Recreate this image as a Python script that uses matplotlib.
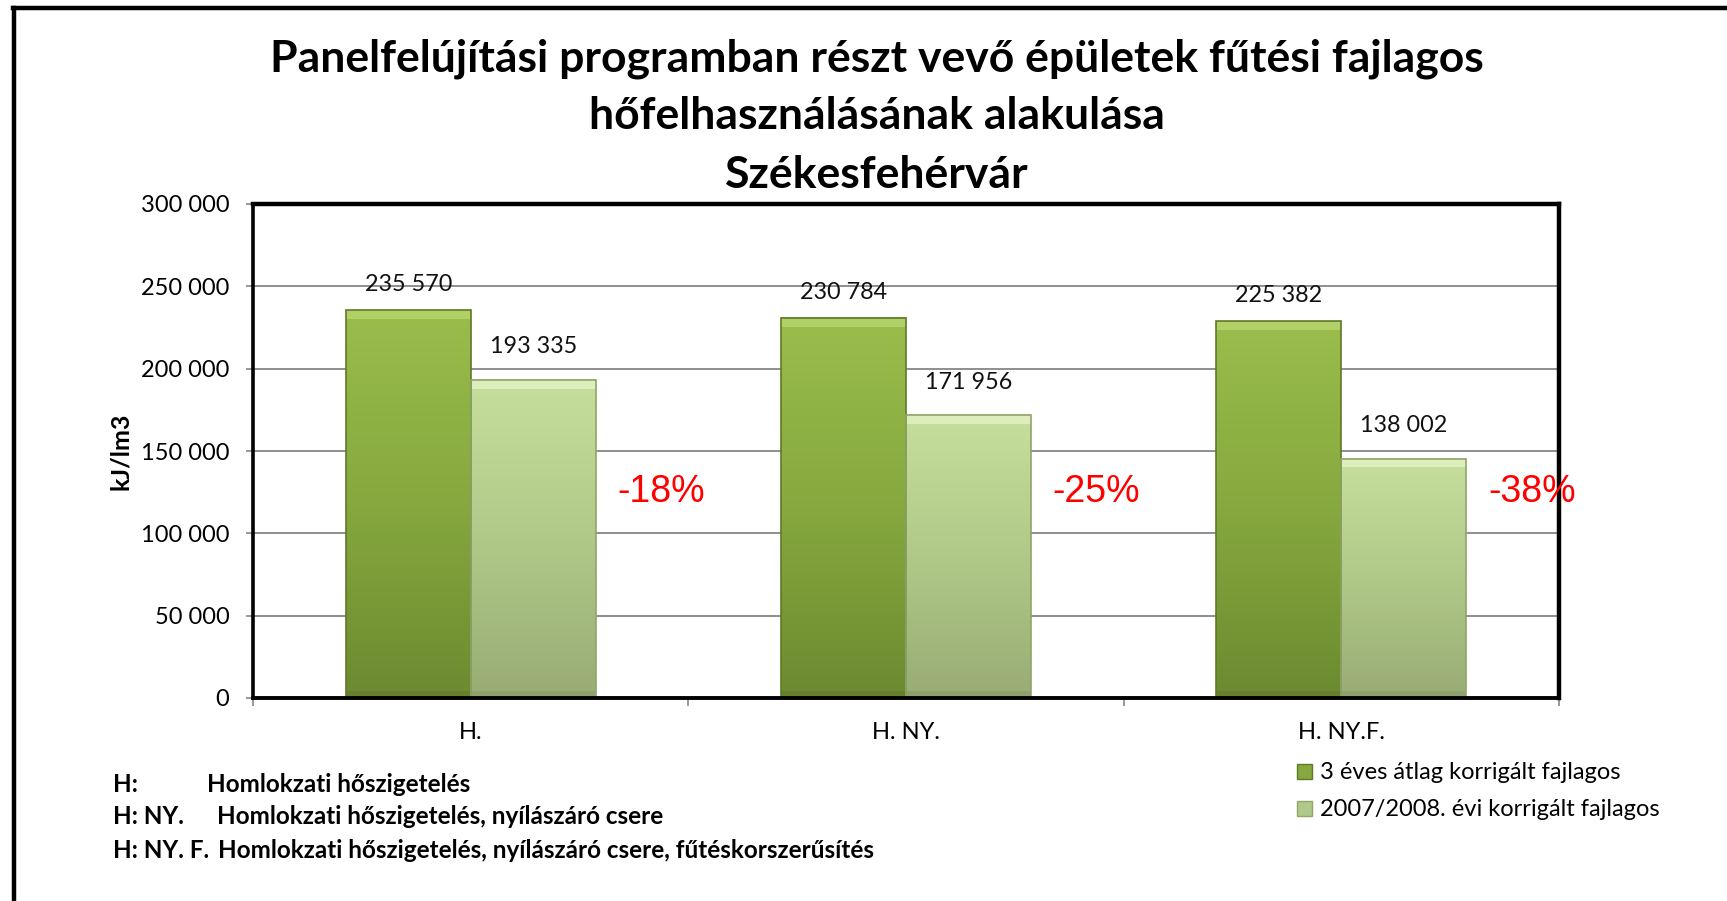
import matplotlib
matplotlib.use('Agg')
import matplotlib.pyplot as plt
import numpy as np
from matplotlib.colors import LinearSegmentedColormap
from matplotlib.patches import Patch, Rectangle
from matplotlib.lines import Line2D

# ---------------- data ----------------
title_lines = ['Panelfelújítási programban részt vevő épületek fűtési fajlagos',
               'hőfelhasználásának alakulása',
               'Székesfehérvár']
categories = ['H.', 'H. NY.', 'H. NY.F.']
series_names = ['3 éves átlag korrigált fajlagos', '2007/2008. évi korrigált fajlagos']
avg3_values = [235570, 230784, 228700]      # bar heights as drawn
y2007_values = [193335, 171956, 145400]     # bar heights as drawn
avg3_labels = ['235 570', '230 784', '225 382']
y2007_labels = ['193 335', '171 956', '138 002']
change_labels = ['-18%', '-25%', '-38%']
y_ticks = [0, 50000, 100000, 150000, 200000, 250000, 300000]
y_tick_labels = ['0', '50 000', '100 000', '150 000', '200 000', '250 000', '300 000']
y_label = 'kJ/lm3'
note_codes = ['H:', 'H: NY.', 'H: NY. F.']
note_texts = ['Homlokzati hőszigetelés',
              'Homlokzati hőszigetelés, nyílászáró csere',
              'Homlokzati hőszigetelés, nyílászáró csere, fűtéskorszerűsítés']

# ---------------- style ----------------
W, H = 1727, 901
FONT = ['Lato', 'DejaVu Sans']
plt.rcParams['font.family'] = FONT

def fx(px):
    return px / W

def fy(py):
    return 1 - py / H

dark_cmap = LinearSegmentedColormap.from_list('dark', ['#6c8a30', '#86a83e', '#9abd4c'])
light_cmap = LinearSegmentedColormap.from_list('light', ['#98ac74', '#b0c988', '#c6df9c'])
dark_edge, light_edge = '#5d7a26', '#8fa56a'
dark_bevel, light_bevel = '#c2e07c', '#eef8d2'

fig = plt.figure(figsize=(W / 100, H / 100), dpi=100)
ax = fig.add_axes([fx(253), fy(698), fx(1559) - fx(253), fy(204) - fy(698)])

x = np.arange(len(categories))
bw = 0.287
bars1 = ax.bar(x - bw / 2, avg3_values, bw, zorder=3)
bars2 = ax.bar(x + bw / 2, y2007_values, bw, zorder=3)

ax.set_xlim(-0.5, len(categories) - 0.5)
ax.set_ylim(0, 300000)

grad = np.linspace(0, 1, 256).reshape(-1, 1)
for bars, cmap, edge, bev in [(bars1, dark_cmap, dark_edge, dark_bevel),
                              (bars2, light_cmap, light_edge, light_bevel)]:
    for r in bars:
        x0, w, h = r.get_x(), r.get_width(), r.get_height()
        ax.imshow(grad, cmap=cmap, aspect='auto', origin='lower',
                  extent=[x0, x0 + w, 0, h], zorder=3, interpolation='bilinear')
        bevel_h = 0.018 * 300000
        ax.add_patch(Rectangle((x0, h - bevel_h), w, bevel_h, facecolor=bev,
                               edgecolor='none', alpha=0.6, zorder=4))
        ax.add_patch(Rectangle((x0, 0), w, bevel_h * 0.8, facecolor='black',
                               edgecolor='none', alpha=0.06, zorder=4))
        r.set_facecolor('none')
        r.set_edgecolor(edge)
        r.set_linewidth(1.2)
        r.set_zorder(5)

ax.set_xlim(-0.5, len(categories) - 0.5)
ax.set_ylim(0, 300000)

# value labels
for bars, labels, off in [(bars1, avg3_labels, 11), (bars2, y2007_labels, 16)]:
    for r, lab in zip(bars, labels):
        ax.annotate(lab, (r.get_x() + r.get_width() / 2, r.get_height()),
                    xytext=(0, off), textcoords='offset points', ha='center', va='bottom',
                    fontsize=16.8, color='#111111', zorder=6)

# percentage changes
for i, lab in enumerate(change_labels):
    r = bars2[i]
    ax.text(r.get_x() + r.get_width() + 0.05, 125000, lab, color='#ff0000',
            fontsize=27, family=['Liberation Sans', 'DejaVu Sans'],
            ha='left', va='center', zorder=10, clip_on=False)

# grid & axes
ax.set_yticks(y_ticks)
ax.set_yticklabels(y_tick_labels, fontsize=17)
ax.yaxis.grid(True, color='#868686', linewidth=1.3, zorder=1)
ax.set_axisbelow(True)
ax.tick_params(axis='y', length=5, color='#868686', width=1.2, pad=12)
ax.set_xticks(x)
ax.set_xticklabels(categories, fontsize=17)
ax.tick_params(axis='x', which='major', length=0, pad=17)
ax.set_xticks(np.arange(-0.5, len(categories), 1.0), minor=True)
ax.tick_params(axis='x', which='minor', length=6, color='#868686', width=1.2)
for s in ['top', 'right']:
    ax.spines[s].set_linewidth(3.2)
ax.spines['left'].set_linewidth(2.6)
ax.spines['bottom'].set_linewidth(2.8)
for s in ax.spines.values():
    s.set_color('black')
    s.set_zorder(8)

fig.text(fx(121), fy(451), y_label, rotation=90, fontsize=18, fontweight='bold',
         ha='center', va='center')

# title
for ty, line in zip([59, 116, 175], title_lines):
    fig.text(fx(877), fy(ty), line, fontsize=32, fontweight='bold', ha='center', va='center')

# legend
handles = [Patch(facecolor='#86a83e', edgecolor=dark_edge),
           Patch(facecolor='#b0c988', edgecolor=light_edge)]
fig.legend(handles, series_names, loc='upper left', bbox_to_anchor=(fx(1288), fy(753)),
           frameon=False, fontsize=17, handlelength=0.6, handleheight=0.6,
           handletextpad=0.35, labelspacing=0.68, borderaxespad=0)

# notes
note_desc_x = [207, 217, 218]
for i, (code, txt) in enumerate(zip(note_codes, note_texts)):
    yy = [785, 817, 850][i]
    fig.text(fx(113), fy(yy), code, fontsize=17.5, fontweight='bold', ha='left', va='center')
    fig.text(fx(note_desc_x[i]), fy(yy), txt, fontsize=17.5, fontweight='bold', ha='left', va='center')

# outer frame (left and top)
fig.add_artist(Line2D([fx(14), fx(14)], [0, fy(8)], color='black', linewidth=3.2))
fig.add_artist(Line2D([fx(13), 1], [fy(8), fy(8)], color='black', linewidth=3.2))

fig.savefig('out.png', dpi=100)
